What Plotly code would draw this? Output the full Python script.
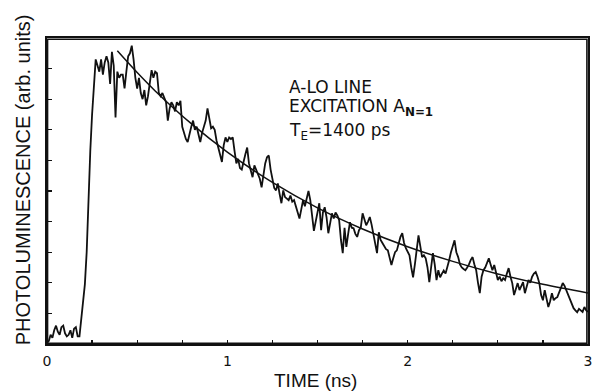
import plotly.graph_objects as go

# Sampling times (ns) of the measured trace, 10 ps grid
time_ns = [round(i * 0.01, 2) for i in range(301)]

# Photoluminescence intensity (arb. units)
intensity = [
    0.05, 0.10, 0.30, 0.20, 0.45, 0.60, 0.40, 0.30, 0.55, 0.60,
    0.35, 0.25, 0.30, 0.45, 0.20, 0.50, 0.55, 0.25, 0.25, 0.80,
    1.40, 1.95, 3.00, 4.90, 6.30, 7.50, 8.60, 9.30, 9.10, 8.90,
    9.30, 8.80, 9.20, 9.40, 9.20, 8.50, 9.55, 9.10, 7.40, 8.90,
    8.70, 8.80, 8.80, 8.35, 8.90, 9.40, 9.50, 9.75, 9.30, 8.70,
    8.35, 8.70, 8.20, 8.00, 8.30, 7.80, 8.10, 8.50, 8.95, 8.70,
    8.90, 8.85, 8.20, 8.10, 8.20, 8.05, 7.90, 7.30, 7.70, 7.90,
    7.80, 7.60, 7.90, 7.80, 7.95, 7.10, 6.90, 6.70, 6.60, 6.90,
    7.10, 7.30, 7.00, 7.10, 6.80, 6.60, 6.90, 7.10, 7.30, 7.70,
    7.30, 7.05, 7.10, 7.00, 6.65, 6.40, 6.20, 5.95, 6.50, 6.75,
    6.60, 6.75, 6.70, 6.75, 6.30, 5.90, 6.05, 5.75, 5.70, 6.00,
    6.20, 6.42, 5.90, 5.67, 5.45, 5.84, 5.70, 5.57, 5.40, 5.12,
    5.50, 5.90, 6.10, 6.16, 5.70, 5.35, 5.10, 5.02, 5.25, 4.90,
    4.60, 5.02, 4.80, 4.75, 4.70, 4.85, 4.65, 4.70, 4.50, 4.30,
    4.10, 4.40, 4.70, 4.50, 4.80, 5.00, 4.70, 4.20, 3.70, 4.00,
    4.37, 4.60, 3.72, 4.30, 4.47, 4.15, 3.62, 4.00, 4.27, 4.10,
    4.30, 4.20, 4.05, 3.40, 2.97, 3.80, 3.17, 3.60, 3.98, 3.80,
    3.78, 3.60, 3.50, 3.72, 3.80, 4.27, 4.05, 3.88, 4.00, 4.15,
    3.90, 3.62, 3.30, 2.97, 3.65, 3.40, 3.30, 3.20, 3.10, 3.06,
    2.80, 2.58, 2.80, 3.00, 3.06, 3.30, 3.50, 3.62, 3.30, 3.13,
    3.00, 2.90, 2.50, 2.18, 2.60, 3.10, 3.55, 3.20, 2.84, 2.90,
    2.80, 2.50, 2.02, 2.50, 2.97, 2.60, 2.09, 2.41, 2.18, 2.30,
    2.40, 2.30, 2.50, 2.74, 3.00, 3.20, 3.39, 3.00, 2.84, 2.60,
    2.50, 2.45, 2.41, 2.50, 2.60, 2.75, 2.84, 2.60, 2.41, 2.00,
    1.66, 2.20, 2.41, 2.50, 2.65, 2.80, 2.60, 2.41, 2.58, 2.30,
    2.09, 2.20, 2.05, 2.15, 2.09, 2.30, 2.48, 2.20, 1.99, 1.60,
    1.80, 1.99, 1.76, 1.90, 2.02, 1.66, 1.90, 2.09, 2.00, 2.20,
    2.30, 2.35, 2.20, 1.99, 1.60, 1.43, 1.76, 1.50, 1.21, 1.40,
    1.66, 1.43, 1.50, 1.53, 1.70, 1.85, 1.99, 1.90, 1.76, 1.60,
    1.43, 1.30, 1.17, 1.10, 1.04, 1.15, 1.10, 1.05, 1.21, 1.10,
    1.05,
]

# Exponential fit curve (T_E = 1400 ps)
fit_t = [0.39, 0.5, 0.6, 0.8, 1.0, 1.25, 1.5, 1.75, 2.0, 2.25, 2.5, 2.75, 3.0]
fit_y = [9.58, 8.87, 8.27, 7.20, 6.27, 5.28, 4.45, 3.76, 3.18, 2.70, 2.29, 1.95, 1.67]

# Axis ticks
x_tickvals = [0, 1, 2, 3]
x_ticktext = ["0", "1", "2", "3"]
x_minor_step = 0.25
y_tickvals = [0, 1, 2, 3, 4, 5, 6, 7, 8, 9, 10]

ink = "#111111"

fig = go.Figure()
fig.add_trace(go.Scatter(x=time_ns, y=intensity, mode="lines",
                         line=dict(color=ink, width=1.8), showlegend=False,
                         hoverinfo="skip"))
fig.add_trace(go.Scatter(x=fit_t, y=fit_y, mode="lines", line_shape="spline",
                         line=dict(color=ink, width=1.5), showlegend=False,
                         hoverinfo="skip"))

fig.update_layout(
    width=593, height=392,
    margin=dict(l=47, r=5, t=38, b=48, autoexpand=False),
    paper_bgcolor="white", plot_bgcolor="white",
    hovermode=False,
    font=dict(family="Liberation Sans, Arial, sans-serif", color=ink),
)
fig.update_xaxes(
    range=[0, 3], showgrid=False, zeroline=False, automargin=False,
    showline=True, linecolor=ink, linewidth=1.6, mirror=True,
    ticks="inside", ticklen=4, tickwidth=1.2, tickcolor=ink,
    tickvals=x_tickvals, ticktext=x_ticktext,
    minor=dict(dtick=x_minor_step, ticks="inside", ticklen=4,
               tickwidth=1.2, tickcolor=ink, showgrid=False),
    tickfont=dict(family="DejaVu Sans", size=14, color=ink),
    ticklabelstandoff=4, ticklabeloverflow="allow",
)
fig.update_yaxes(
    range=[0, 10], showgrid=False, zeroline=False, automargin=False,
    showline=True, linecolor=ink, linewidth=1.6, mirror=True,
    ticks="inside", ticklen=5, tickwidth=1.2, tickcolor=ink,
    tickvals=y_tickvals, showticklabels=False,
)

# Frame drawn just inside the plot area so the top and right edges always show
fig.add_shape(type="rect", xref="paper", yref="paper",
              x0=0.001, y0=0.002, x1=0.998, y1=0.996,
              line=dict(color=ink, width=1.6), layer="above")

txt_font = dict(family="DejaVu Sans", size=17, color=ink)
fig.add_annotation(x=1.33, y=8.41, xref="x", yref="y", text="A-LO LINE",
                   showarrow=False, xanchor="left", yanchor="middle", font=txt_font)
fig.add_annotation(x=1.33, y=7.73, xref="x", yref="y",
                   text="EXCITATION A<sub><b>N=1</b></sub>",
                   showarrow=False, xanchor="left", yanchor="middle", font=txt_font)
fig.add_annotation(x=1.33, y=6.93, xref="x", yref="y",
                   text="T<sub>E</sub>=1400 ps",
                   showarrow=False, xanchor="left", yanchor="middle", font=txt_font)

fig.add_annotation(x=-0.0444, y=0.538, xref="paper", yref="paper",
                   text="PHOTOLUMINESCENCE (arb. units)", textangle=-90,
                   showarrow=False, xanchor="center", yanchor="middle",
                   font=dict(family="Liberation Sans", size=20, color=ink))
fig.add_annotation(x=0.497, y=-0.1206, xref="paper", yref="paper",
                   text="TIME (ns)", showarrow=False,
                   xanchor="center", yanchor="middle",
                   font=dict(family="Liberation Sans", size=19, color=ink))

fig.write_html(
    "out.html",
    config={"displayModeBar": False, "staticPlot": True},
    post_script="document.body.style.margin='0';document.body.style.padding='0';"
                "document.body.style.overflow='hidden';",
)
